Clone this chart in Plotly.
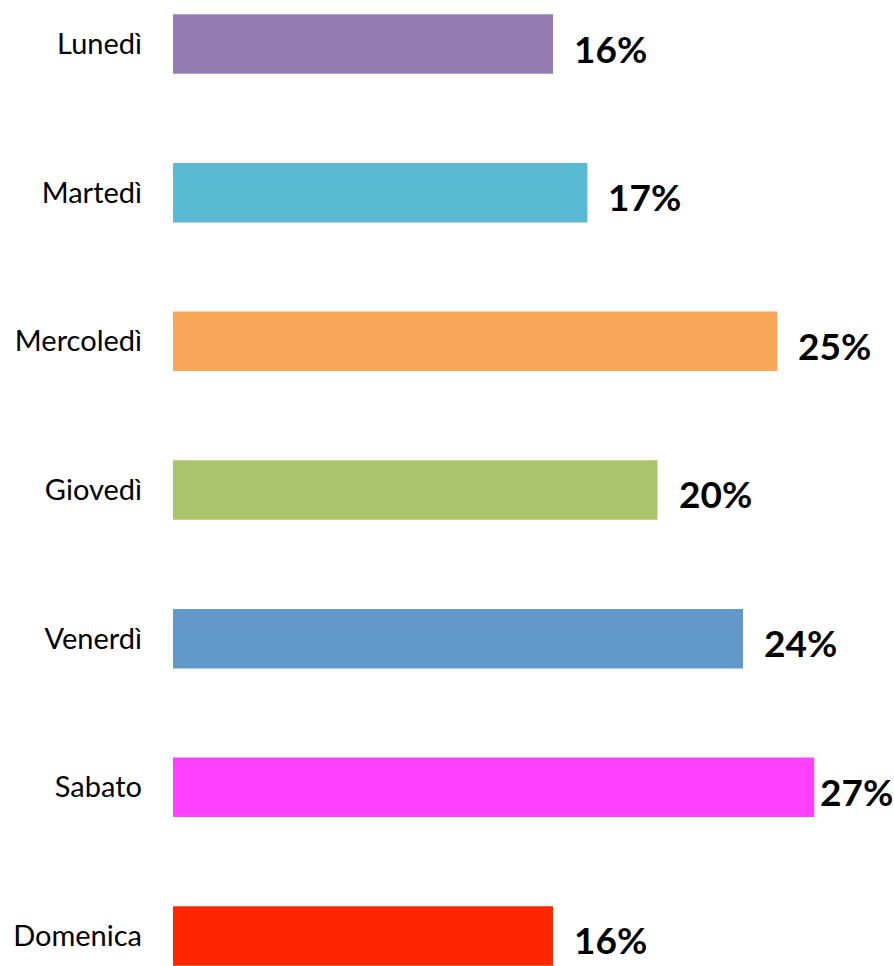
import plotly.graph_objects as go

giorni = ['Lunedì', 'Martedì', 'Mercoledì', 'Giovedì', 'Venerdì', 'Sabato', 'Domenica']
percentuali = [16.0, 17.45, 25.45, 20.4, 24.0, 27.0, 16.0]
etichette = ['16%', '17%', '25%', '20%', '24%', '27%', '16%']
colori = ['#947CB3', '#5BBAD3', '#F9A859', '#ABC46C', '#6398CA', '#FF40FF', '#FF2600']

larghezza = 894
sinistra = 173
px_per_punto = 23.75

fig = go.Figure()

fig.add_trace(go.Bar(
    x=percentuali,
    y=giorni,
    orientation='h',
    width=0.4,
    marker=dict(color=colori, line=dict(width=0)),
    hoverinfo='skip'
))

# etichette percentuali a destra delle barre (più vicine se manca spazio)
for giorno, valore, etichetta in zip(giorni, percentuali, etichette):
    spazio = larghezza - 2 - (sinistra + valore * px_per_punto) - 74
    fig.add_annotation(
        x=valore,
        y=giorno,
        text=f'<b>{etichetta}</b>',
        showarrow=False,
        xanchor='left',
        xshift=min(19, spazio),
        yshift=-4,
        font=dict(family='Lato', size=37, color='black')
    )

fig.update_layout(
    width=larghezza,
    height=966,
    margin=dict(l=sinistra, r=0, t=0, b=0),
    plot_bgcolor='white',
    paper_bgcolor='white',
    showlegend=False,
    font=dict(family='Lato', size=29, color='black'),
    xaxis=dict(
        range=[0, (larghezza - sinistra) / px_per_punto],
        visible=False
    ),
    yaxis=dict(
        categoryorder='array',
        categoryarray=giorni,
        range=[6.202, -0.296],
        showgrid=False,
        zeroline=False,
        showline=False,
        ticks='',
        ticklabelstandoff=30
    )
)

fig.write_html(
    'out.html',
    config=dict(displayModeBar=False),
    post_script="document.body.style.margin='0';document.body.style.overflow='hidden';"
)
